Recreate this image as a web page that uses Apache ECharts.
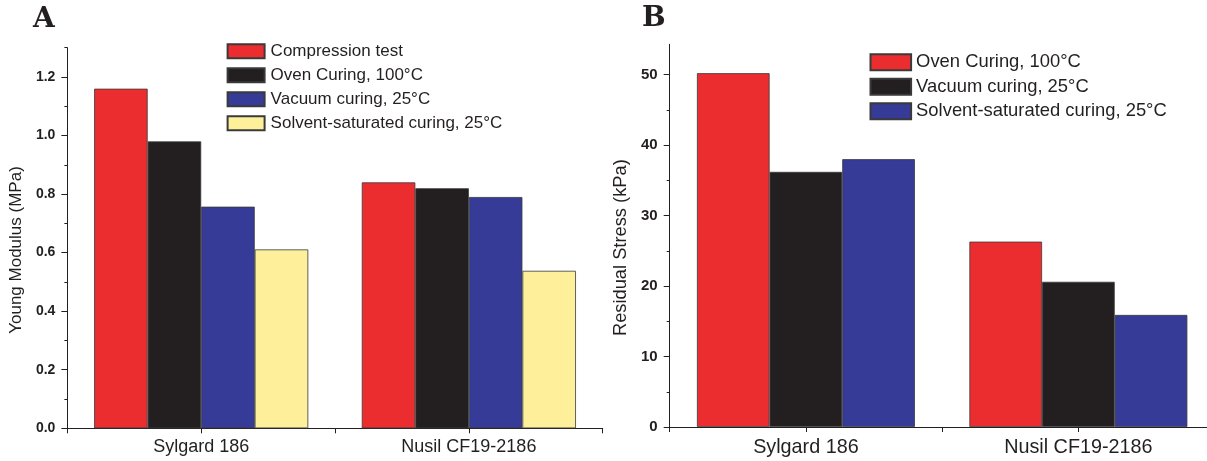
<!DOCTYPE html>
<html>
<head>
<meta charset="utf-8">
<script src="https://cdn.jsdelivr.net/npm/echarts@6/dist/echarts.min.js"></script>
<style>
  html, body { margin: 0; padding: 0; background: #fff; overflow: hidden; width: 1207px; height: 461px; }
  #chartA { position: absolute; left: 0; top: 0; width: 604px; height: 461px; }
  #chartB { position: absolute; left: 604px; top: 0; width: 612px; height: 461px; }
</style>
</head>
<body>
<div id="chartA"></div>
<div id="chartB"></div>
<script>
// Data
const categories = ['Sylgard 186', 'Nusil CF19-2186']

// Panel A: Young modulus (MPa)
const modulusCompression = [1.16, 0.84]
const modulusOven = [0.98, 0.82]
const modulusVacuum = [0.757, 0.79]
const modulusSolvent = [0.611, 0.538]
const modulusTicks = [0, 0.2, 0.4, 0.6, 0.8, 1.0, 1.2]
const modulusMinorTicks = [0.1, 0.3, 0.5, 0.7, 0.9, 1.1, 1.3]

// Panel B: residual stress (kPa)
const stressOven = [50.2, 26.3]
const stressVacuum = [36.2, 20.6]
const stressSolvent = [38.0, 15.9]
const stressTicks = [0, 10, 20, 30, 40, 50]
const stressMinorTicks = [5, 15, 25, 35, 45]

const RED = '#EC2D2F'
const BLACK = '#231F20'
const BLUE = '#353B96'
const YELLOW = '#FEF09A'
const INK = '#231F20'
const FONT = "'Liberation Sans', Arial, sans-serif"

const barItem = color => ({ color: color, borderColor: '#3a3a3a', borderWidth: 0.8 })

const makeBar = (name, data, color) => ({
  name: name,
  type: 'bar',
  xAxisIndex: 0,
  yAxisIndex: 0,
  data: data,
  barGap: 0,
  barCategoryGap: '20%',
  itemStyle: barItem(color),
})

const axisLineStyle = { color: INK, width: 1 }

const buildOption = cfg => ({
  animation: false,
  textStyle: { fontFamily: FONT },
  graphic: [
    {
      type: 'text',
      left: cfg.letterLeft,
      top: cfg.letterTop,
      style: {
        text: cfg.letter,
        fontFamily: "'DejaVu Serif', serif",
        fontWeight: 'bold',
        fontSize: 28,
        fill: INK,
      },
    },
  ],
  legend: {
    orient: 'vertical',
    left: cfg.legendLeft,
    top: cfg.legendTop,
    padding: 0,
    itemWidth: cfg.legendW,
    itemHeight: cfg.legendH,
    itemGap: cfg.legendGap,
    icon: 'rect',
    selectedMode: false,
    textStyle: {
      fontFamily: FONT,
      fontSize: cfg.legendFont,
      color: INK,
      lineHeight: cfg.legendH,
      padding: [0, 0, 0, cfg.legendTextPad],
    },
  },
  grid: {
    left: cfg.grid[0],
    right: cfg.grid[1],
    top: cfg.grid[2],
    bottom: cfg.grid[3],
  },
  xAxis: [
    {
      type: 'category',
      data: categories,
      position: 'bottom',
      axisLine: { show: true, lineStyle: axisLineStyle },
      axisTick: { show: true, length: 5, lineStyle: axisLineStyle },
      axisLabel: {
        fontFamily: FONT,
        fontSize: cfg.catFont,
        color: INK,
        margin: cfg.catMargin,
      },
    },
    {
      type: 'category',
      data: categories,
      position: 'bottom',
      axisLine: { show: false },
      axisTick: { show: true, alignWithLabel: true, length: 5, lineStyle: axisLineStyle },
      axisLabel: { show: false },
    },
  ],
  yAxis: [
    {
      type: 'value',
      position: 'left',
      min: 0,
      max: cfg.yMax,
      interval: cfg.yInterval,
      name: cfg.yName,
      nameLocation: 'middle',
      nameGap: cfg.nameGap,
      nameTextStyle: {
        fontFamily: FONT,
        fontSize: cfg.nameFont,
        color: INK,
        padding: [0, 24, 0, 0],
      },
      splitLine: { show: false },
      axisLine: { show: true, lineStyle: axisLineStyle },
      axisTick: { show: true, length: 6, customValues: cfg.ticks, lineStyle: axisLineStyle },
      axisLabel: {
        customValues: cfg.ticks,
        formatter: cfg.labelFormat,
        fontFamily: FONT,
        fontWeight: 'bold',
        fontSize: cfg.tickFont,
        color: INK,
        margin: 12,
      },
    },
    {
      type: 'value',
      position: 'left',
      min: 0,
      max: cfg.yMax,
      interval: cfg.yInterval,
      splitLine: { show: false },
      axisLine: { show: false },
      axisTick: { show: true, length: 3, customValues: cfg.minorTicks, lineStyle: axisLineStyle },
      axisLabel: { show: false },
    },
  ],
  series: cfg.series,
})

const chartA = echarts.init(document.getElementById('chartA'))
chartA.setOption(buildOption({
  letter: 'A',
  letterLeft: 33,
  letterTop: 6,
  legendLeft: 226.6,
  legendTop: 42.7,
  legendW: 37,
  legendH: 14,
  legendGap: 7,
  legendFont: 17,
  legendTextPad: 1,
  grid: [63.5, 1.3, 47.7, 32.7],
  catFont: 18,
  catMargin: 10,
  yMax: 1.3,
  yInterval: 0.1,
  yName: 'Young Modulus (MPa)',
  nameGap: 39,
  nameFont: 17,
  ticks: modulusTicks,
  minorTicks: modulusMinorTicks,
  labelFormat: v => v.toFixed(1),
  tickFont: 14,
  series: [
    makeBar('Compression test', modulusCompression, RED),
    makeBar('Oven Curing, 100°C', modulusOven, BLACK),
    makeBar('Vacuum curing, 25°C', modulusVacuum, BLUE),
    makeBar('Solvent-saturated curing, 25°C', modulusSolvent, YELLOW),
  ],
}))

const chartB = echarts.init(document.getElementById('chartB'))
chartB.setOption(buildOption({
  letter: 'B',
  letterLeft: 38,
  letterTop: 5,
  legendLeft: 265.5,
  legendTop: 53.3,
  legendW: 40.6,
  legendH: 16,
  legendGap: 6.5,
  legendFont: 18.4,
  legendTextPad: 0,
  grid: [65.7, 1.4, 44.3, 34],
  catFont: 19.8,
  catMargin: 11,
  yMax: 54.3,
  yInterval: 5,
  yName: 'Residual Stress (kPa)',
  nameGap: 38,
  nameFont: 18.3,
  ticks: stressTicks,
  minorTicks: stressMinorTicks,
  labelFormat: v => String(v),
  tickFont: 15,
  series: [
    makeBar('Oven Curing, 100°C', stressOven, RED),
    makeBar('Vacuum curing, 25°C', stressVacuum, BLACK),
    makeBar('Solvent-saturated curing, 25°C', stressSolvent, BLUE),
  ],
}))
</script>
</body>
</html>
